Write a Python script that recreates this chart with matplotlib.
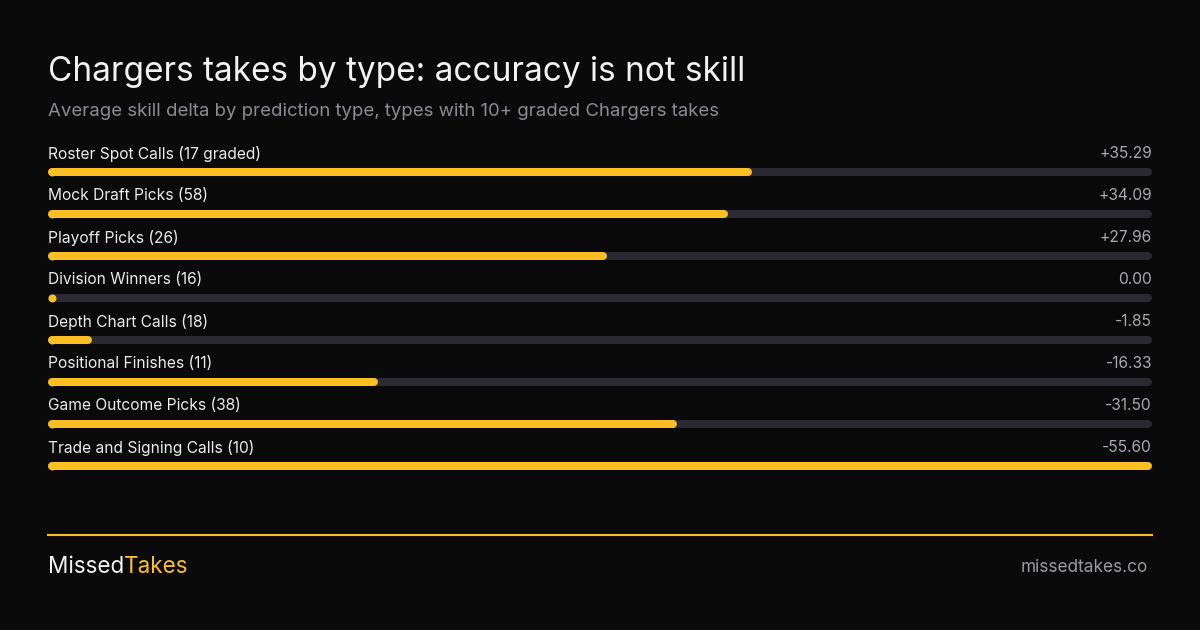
import matplotlib
matplotlib.use("Agg")
import matplotlib.pyplot as plt
import matplotlib.transforms as mtransforms

categories = ["Roster Spot Calls (17 graded)", "Mock Draft Picks (58)", "Playoff Picks (26)",
              "Division Winners (16)", "Depth Chart Calls (18)", "Positional Finishes (11)",
              "Game Outcome Picks (38)", "Trade and Signing Calls (10)"]
values = [35.29, 34.09, 27.96, 0.00, -1.85, -16.33, -31.50, -55.60]
value_labels = ["+35.29", "+34.09", "+27.96", "0.00", "-1.85", "-16.33", "-31.50", "-55.60"]

BG = "#0a0a0a"
YELLOW = "#fbbf24"
TRACK = "#2b2a33"
W, H = 1200, 630

plt.rcParams['font.family'] = ['Inter', 'DejaVu Sans']

fig = plt.figure(figsize=(12, 6.3), dpi=100, facecolor=BG)

def fy(px):
    return 1 - px / H

fig.text(48 / W, fy(72), "Chargers takes by type: accuracy is not skill", color="#f2f2f2",
         fontsize=24, va="center", ha="left")
fig.text(48 / W, fy(111), "Average skill delta by prediction type, types with 10+ graded Chargers takes",
         color="#8b8b94", fontsize=13.4, va="center", ha="left")

# bars: rounded tracks, fill scaled to the largest absolute delta
lw_px = 8
ax = fig.add_axes([(48 + lw_px / 2) / W, fy(172 + 42 * 7.5), (1104 - lw_px) / W, 42 * 8 / H])
ax.set_facecolor("none")
xmax = max(abs(v) for v in values)
ax.set_xlim(0, xmax)
ax.set_ylim(len(values) - 0.5, -0.5)
ax.axis("off")
lw = lw_px * 72 / 100
left_tr = mtransforms.offset_copy(ax.transData, fig=fig, x=-lw_px / 2, units="dots")
right_tr = mtransforms.offset_copy(ax.transData, fig=fig, x=lw_px / 2, units="dots")
for i, (cat, v, lab) in enumerate(zip(categories, values, value_labels)):
    ax.plot([0, xmax], [i, i], color=TRACK, lw=lw, solid_capstyle="round", clip_on=False)
    ax.plot([0, abs(v)], [i, i], color=YELLOW, lw=lw, solid_capstyle="round",
            marker="o", markersize=lw, markeredgewidth=0, markevery=[0], clip_on=False)
    ax.text(0, i - 18 / 42, cat, transform=left_tr, color="#ececec", fontsize=11.2,
            ha="left", va="center")
    ax.text(xmax, i - 18 / 42, lab, transform=right_tr, color="#a8a8b0", fontsize=11.2,
            ha="right", va="center")

# footer
fig.add_artist(plt.Line2D([48 / W, 1152 / W], [fy(535), fy(535)], color=YELLOW, lw=1.5))
t = fig.text(48 / W, fy(567), "Missed", color="#f2f2f2", fontsize=16.2, va="center", ha="left")
fig.canvas.draw()
bb = t.get_window_extent()
fig.text(bb.x1 / W, fy(567), "Takes", color=YELLOW, fontsize=16.2, va="center", ha="left")
fig.text(1148 / W, fy(567), "missedtakes.co", color="#9a9aa2", fontsize=12.4, va="center", ha="right")

fig.savefig("out.png", dpi=100, facecolor=BG)
